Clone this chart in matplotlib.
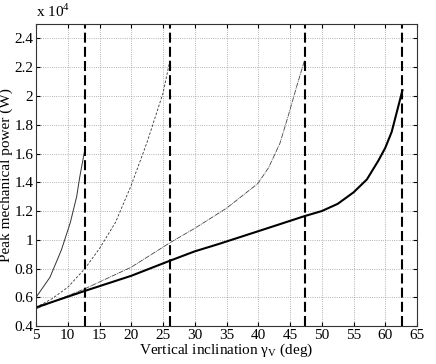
import numpy as np
from matplotlib import pyplot as plt

# values (power in units of 10^4 W)
x1 = [5, 7.2, 9.0, 10.4, 11.4, 11.9, 12.7]
y1 = [0.60, 0.74, 0.93, 1.12, 1.30, 1.44, 1.63]

x2 = [5, 7.5, 10, 12.7, 15, 17.5, 20, 22.5, 25, 26.1]
y2 = [0.53, 0.59, 0.67, 0.80, 0.94, 1.12, 1.38, 1.68, 2.02, 2.25]

x3 = [5, 12.7, 20, 26.1, 30, 35, 39.9, 41.6, 43.4, 44.7, 46.0, 47.3]
y3 = [0.52, 0.66, 0.81, 0.98, 1.08, 1.22, 1.39, 1.50, 1.67, 1.86, 2.06, 2.25]

x4 = [5, 12.7, 20, 26.1, 30, 33.7, 40, 47.3, 50, 52.5, 55, 57.1, 58.9, 60, 61, 62.7]
y4 = [0.53, 0.645, 0.75, 0.855, 0.92, 0.97, 1.06, 1.165, 1.20, 1.25, 1.33, 1.42, 1.55, 1.64, 1.75, 2.04]

limits = [12.7, 26.1, 47.3, 62.7]

plt.rcParams['font.family'] = ['Liberation Serif', 'DejaVu Serif']
plt.rcParams['mathtext.fontset'] = 'custom'
plt.rcParams['mathtext.rm'] = 'Liberation Serif'

fig = plt.figure(figsize=(4.36, 3.64), dpi=100)
ax = fig.add_axes([0.0826, 0.104, 0.874, 0.83])

ax.plot(x1, y1, color='#333333', lw=0.7)
ax.plot(x2, y2, color='#333333', lw=0.6, linestyle=(0, (3, 2)))
ax.plot(x3, y3, color='#444444', lw=0.6, linestyle=(0, (6, 1, 1, 1)))
ax.plot(x4, y4, color='black', lw=1.5)
for xv in limits:
    ax.axvline(xv, color='black', lw=1.5, linestyle=(0, (4.8, 2)))

ax.set_xlim(5, 65)
ax.set_ylim(0.4, 2.5)
ax.set_xticks(np.arange(5, 66, 5))
yt = np.arange(0.4, 2.41, 0.2)
ax.set_yticks(yt)
ax.set_yticklabels(['%g' % round(v, 1) for v in yt])
ax.grid(True, color='#999999', linestyle=':', lw=0.6)
ax.tick_params(direction='in', top=True, right=True, labelsize=11, length=3, pad=2)
for s in ax.spines.values():
    s.set_linewidth(0.8)
    s.set_color('#333333')

ax.set_xlabel('Vertical inclination γ$_\\mathrm{V}$ (deg)', fontsize=11, labelpad=0)
ax.set_ylabel('Peak mechanical power (W)', fontsize=11, labelpad=1)
ax.text(0.0, 1.012, 'x 10$^4$', transform=ax.transAxes, fontsize=11, ha='left', va='bottom')

fig.savefig('out.png', dpi=100)
